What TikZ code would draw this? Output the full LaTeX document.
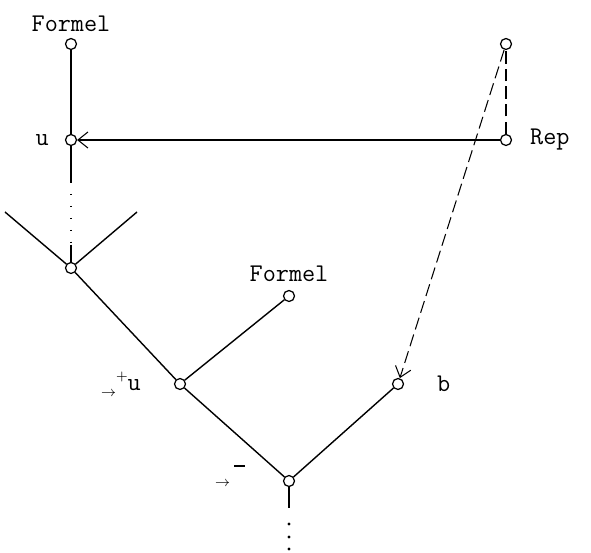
\documentclass[tikz,border=0pt]{standalone}
\usepackage{fontspec}
\usetikzlibrary{arrows.meta,positioning}
\tikzset{knot/.style={circle,draw,fill=white,line width=.7pt,minimum size=.22cm,inner sep=0pt},edge/.style={line width=.8pt},fine/.style={line width=.6pt},lab/.style={font=\ttfamily\fontsize{14.5}{16}\selectfont,inner sep=1pt},ptr/.style={-{Straight Barb[length=2mm,width=3.2mm]}},gap/.style={line width=.8pt,dash pattern=on .8pt off 6pt},broken/.style={line width=.6pt,dash pattern=on 7pt off 3pt}}

\begin{document}
\begin{tikzpicture}[x=.02cm,y=-.02cm]
        \useasboundingbox (0,0) rectangle (591,553);
        % nodes of the tree
        \node[knot] (top) at (71,44){};
        \node[knot] (u) at (71,140){};
        \node[knot] (rtop) at (506,44){};
        \node[knot] (rep) at (506,140){};
        \node[knot] (join) at (71,268){};
        \node[knot] (mid) at (180,384){};
        \node[knot] (form) at (289,296){};
        \node[knot] (low) at (289,481){};
        \node[knot] (b) at (398,384){};
        \coordinate (ul) at (5,212);
        \coordinate (ur) at (137,212);
        \coordinate (d1) at (71,182);
        \coordinate (d2) at (71,245);
        \coordinate (tail) at (289,508);
        % connectors
        \draw[fine](top)--(u);
        \draw[fine](u)--(d1);
        \draw[gap](d1)--(d2);
        \draw[fine](d2)--(join);
        \draw[edge](ul)--(join)--(mid)--(low)--(b);
        \draw[edge](join)--(ur);
        \draw[edge](mid)--(form);
        \draw[edge](low)--(tail);
        \foreach \y in {524,537,549}\fill(289,\y)circle[radius=1.6];
        \draw[fine,ptr](rep)--(u);
        \draw[broken](rep)--(rtop);
        \draw[broken,ptr](rtop)--(b);
        % labels
        \node[lab,above=.08cm of top]{Formel};
        \node[lab,left=.28cm of u]{u};
        \node[lab,right=.32cm of rep]{Rep};
        \node[lab,above=.12cm of form]{Formel};
        \node[lab,right=.62cm of b]{b};
        \node[lab,left=.62cm of mid]{\raisebox{-3pt}{\footnotesize$\rightarrow$}\raisebox{6pt}{\footnotesize$+$}u};
        \node[lab,left=.72cm of low,yshift=3pt]{\raisebox{-4pt}{\footnotesize$\rightarrow$}\,\raisebox{7pt}{\rule{6pt}{1.3pt}}};
      \end{tikzpicture}
\end{document}
